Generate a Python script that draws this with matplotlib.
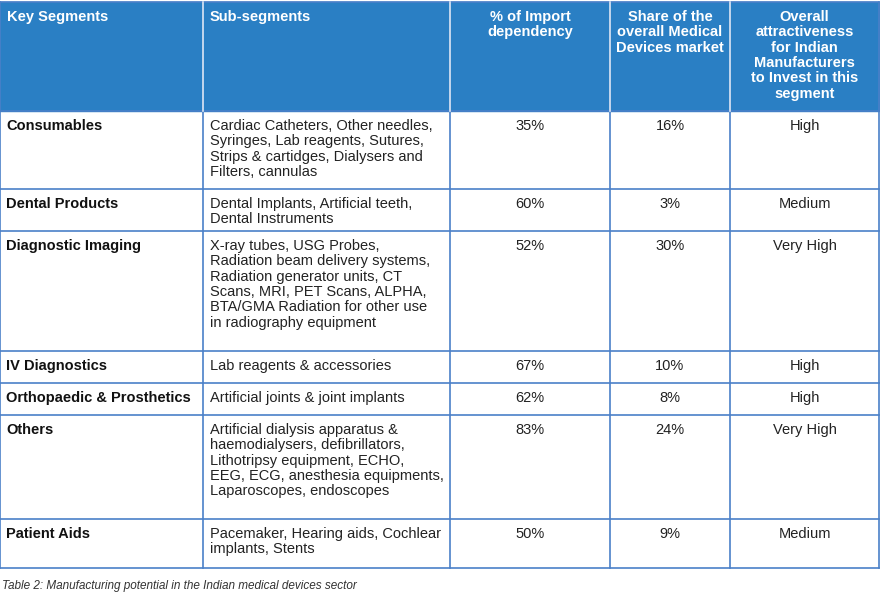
import matplotlib.pyplot as plt

plt.rcParams["font.family"] = ["Liberation Sans", "DejaVu Sans"]

headers = ["Key Segments", "Sub-segments", "% of Import\ndependency",
           "Share of the\noverall Medical\nDevices market",
           "Overall\nattractiveness\nfor Indian\nManufacturers\nto Invest in this\nsegment"]
segments = ["Consumables", "Dental Products", "Diagnostic Imaging", "IV Diagnostics",
            "Orthopaedic & Prosthetics", "Others", "Patient Aids"]
sub_segments = [
    "Cardiac Catheters, Other needles,\nSyringes, Lab reagents, Sutures,\nStrips & cartidges, Dialysers and\nFilters, cannulas",
    "Dental Implants, Artificial teeth,\nDental Instruments",
    "X-ray tubes, USG Probes,\nRadiation beam delivery systems,\nRadiation generator units, CT\nScans, MRI, PET Scans, ALPHA,\nBTA/GMA Radiation for other use\nin radiography equipment",
    "Lab reagents & accessories",
    "Artificial joints & joint implants",
    "Artificial dialysis apparatus &\nhaemodialysers, defibrillators,\nLithotripsy equipment, ECHO,\nEEG, ECG, anesthesia equipments,\nLaparoscopes, endoscopes",
    "Pacemaker, Hearing aids, Cochlear\nimplants, Stents",
]
import_dep = ["35%", "60%", "52%", "67%", "62%", "83%", "50%"]
market_share = ["16%", "3%", "30%", "10%", "8%", "24%", "9%"]
attractiveness = ["High", "Medium", "Very High", "High", "High", "Very High", "Medium"]
caption = "Table 2: Manufacturing potential in the Indian medical devices sector"

col_x = [0, 203, 450, 610, 730, 879]
row_y = [2, 111, 189, 231, 351, 383, 415, 519, 568]

header_color = "#2a7fc4"
line_color = "#4a80c8"

fig = plt.figure(figsize=(8.8, 5.97), dpi=100)
ax = fig.add_axes([0, 0, 1, 1])
ax.set_xlim(0, 880)
ax.set_ylim(597, 0)
ax.axis("off")

ax.add_patch(plt.Rectangle((col_x[0], row_y[0]), col_x[-1] - col_x[0], row_y[1] - row_y[0],
                           color=header_color, zorder=0))

fs = 10.5
ls = 1.12
for i, h in enumerate(headers):
    if i < 2:
        ax.text(col_x[i] + 7, row_y[0] + 8, h, color="white", fontsize=fs, fontweight="bold",
                va="top", ha="left", linespacing=ls)
    else:
        ax.text((col_x[i] + col_x[i + 1]) / 2, row_y[0] + 8, h, color="white", fontsize=fs,
                fontweight="bold", va="top", ha="center", linespacing=ls)

rows = zip(segments, sub_segments, import_dep, market_share, attractiveness)
for r, (seg, sub, imp, share, attr) in enumerate(rows):
    y = row_y[r + 1] + 8
    ax.text(col_x[0] + 6, y, seg, fontsize=fs, fontweight="bold", va="top", color="#111111")
    ax.text(col_x[1] + 7, y, sub, fontsize=fs, va="top", linespacing=ls, color="#222222")
    for c, val in zip(range(2, 5), (imp, share, attr)):
        ax.text((col_x[c] + col_x[c + 1]) / 2, y, val, fontsize=fs, va="top", ha="center",
                color="#222222")

# grid lines
for x in col_x:
    ax.plot([x, x], [row_y[0], row_y[-1]], color=line_color if x not in (col_x[0],) else line_color,
            lw=1.2, zorder=2)
for x in col_x[1:-1]:
    ax.plot([x, x], [row_y[0], row_y[1]], color="#d8e6f4", lw=1.2, zorder=3)
for y in row_y:
    ax.plot([col_x[0], col_x[-1]], [y, y], color=line_color, lw=1.2, zorder=2)

ax.text(2, 586, caption, fontsize=8.5, style="italic", va="center", color="#333333")

fig.savefig("out.png", dpi=100)
